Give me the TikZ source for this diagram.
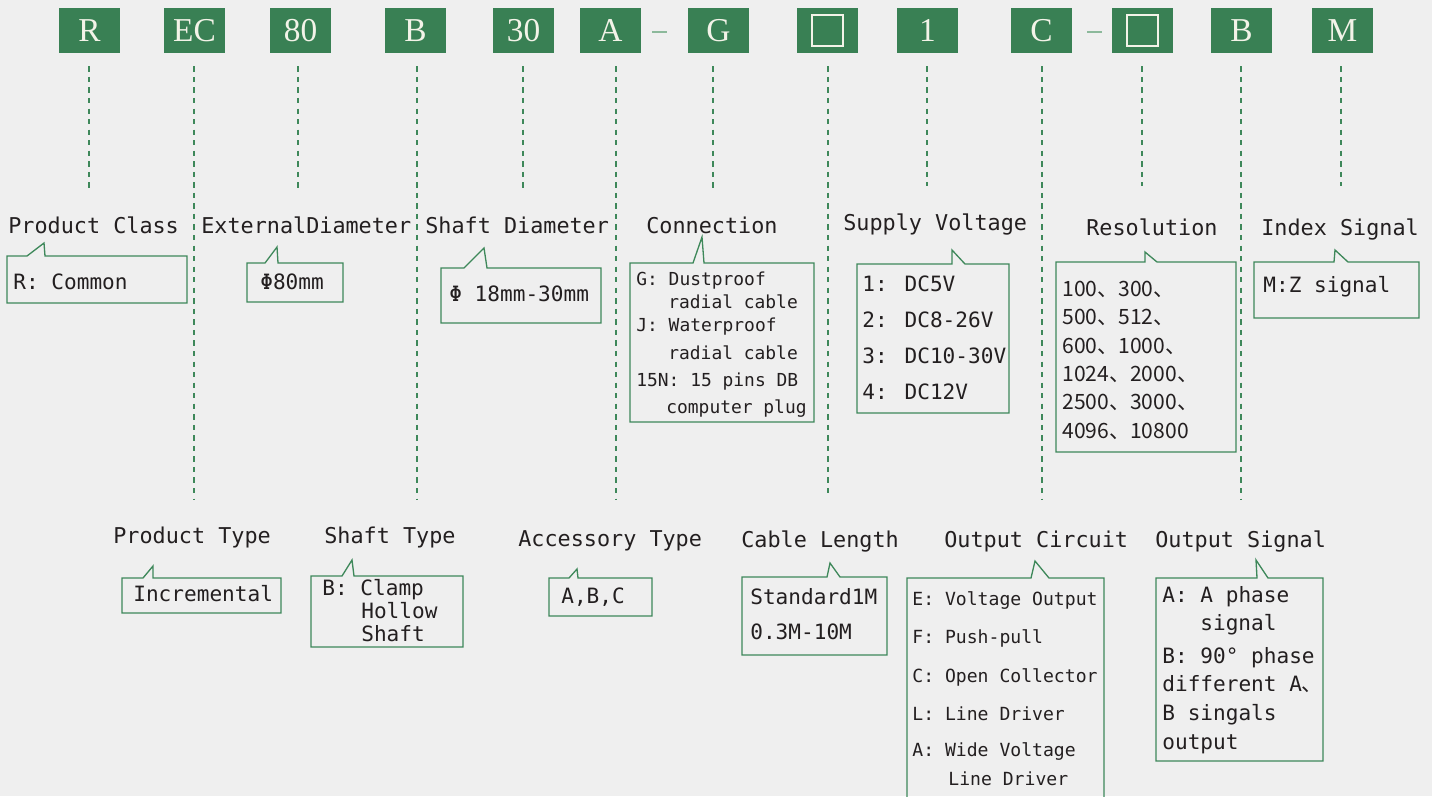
\documentclass[tikz,border=0pt]{standalone}
\usepackage{fontspec}
\setmainfont{DejaVu Sans Mono}
\newfontfamily\codefont{Liberation Serif}
\newfontfamily\cjk{Noto Sans CJK SC}
\usetikzlibrary{calc}
\definecolor{pagebg}{RGB}{239,239,239}
\definecolor{codegreen}{RGB}{57,128,84}
\definecolor{rulegreen}{RGB}{62,136,90}
\definecolor{inkdark}{RGB}{35,31,32}
\definecolor{codeink}{RGB}{243,243,232}
\definecolor{dashgreen}{RGB}{140,185,155}
\tikzset{
  codebox/.style={fill=codegreen,text=codeink,minimum width=1.22cm,minimum height=0.9cm,inner sep=0pt,font=\codefont\fontsize{19}{19}\selectfont},
  head/.style={anchor=west,inner sep=0pt,text height=0.73em,text depth=0pt,text=inkdark,font=\fontsize{12.4}{12.4}\selectfont},
  entry/.style={anchor=west,inner sep=0pt,text height=0.73em,text depth=0pt,text=inkdark,font=\fontsize{12}{12}\selectfont},
  small entry/.style={entry,font=\fontsize{10.2}{10.2}\selectfont},
  mid entry/.style={entry,font=\fontsize{10.3}{10.3}\selectfont},
  cjk entry/.style={entry,font=\cjk\fontsize{12}{12}\selectfont},
  callbox/.style={draw=rulegreen,line width=0.75pt},
  guide/.style={draw=rulegreen,line width=0.8pt,dash pattern=on 3pt off 3pt,shorten <=0.26cm},
}
\begin{document}
\begin{tikzpicture}[x=0.02cm,y=-0.02cm]
  \fill[pagebg] (0,0) rectangle (1432,796);
  \useasboundingbox (0,0) rectangle (1432,796);
  % model code
  \foreach \n/\x/\t in {R/89.5/R,EC/194.5/EC,80/300.5/80,B/415.5/B,30/523.5/30,A/610.5/A,G/718.5/G,L/827.5/{},V/927.5/1,C/1041.5/C,D/1142.5/{},S/1241.5/B,M/1342.5/M}
    \node[codebox] (c\n) at (\x,30.5) {\t};
  \foreach \n in {L,D} \draw[codeink,line width=1.2pt] ($(c\n.center)+(-15.5,-15.5)$) rectangle ++(31,31);
  \draw[dashgreen,line width=1pt] ($(cA.east)+(11,1.5)$) -- ($(cG.west)+(-21,1.5)$);
  \draw[dashgreen,line width=1pt] ($(cC.east)+(15,1.5)$) -- ($(cD.west)+(-10,1.5)$);
  % guide lines
  \foreach \n/\x/\y in {R/89/188,EC/194/500,80/298/188,B/417/500,30/523/188,A/616/500,G/713/188,L/828/495,V/927/186,C/1042/500,D/1142/186,S/1241/500,M/1341/186} {
    \coordinate (e\n) at (\x,\y);
    \draw[guide] (c\n.south -| e\n) -- (e\n);
  }
  % headings
  \foreach \n/\x/\y/\t in {Class/8/227/Product Class,Diam/201/227/ExternalDiameter,Shaft/425/227/Shaft Diameter,Conn/646/227/Connection,Volt/843/224/Supply Voltage,Res/1086/229/Resolution,Index/1261/229/Index Signal,
    Type/113/537/Product Type,SType/324/537/Shaft Type,Acc/518/540/Accessory Type,Cable/741/541/Cable Length,Circ/944/541/Output Circuit,Sig/1155/541/Output Signal}
    \node[head] (t\n) at (\x,\y) {\t};
  % callout boxes
  \foreach \xa/\ya/\xb/\yb/\ta/\px/\py/\tb in {7/256/187/303/27/44/243/45,247/263/343/302/265/277/247/278,441/268/601/323/464/484/248/487,
    630/263/814/422/693/702/237/704,857/264/1009/413/952/952/250/965,1056/262/1236/452/1145/1145/252/1157,1254/262/1419/318/1334/1335/250/1348,
    122/578/281/613/143/153/566/153,311/576/463/647/342/352/560/354,549/578/652/616/569/577/569/578,742/577/887/655/827/830/563/840,
    907/578/1104/800/1031/1035/561/1049,1156/578/1323/761/1257/1256/560/1268}
    \draw[callbox] (\xa,\ya) -- (\ta,\ya) -- (\px,\py) -- (\tb,\ya) -- (\xb,\ya) -- (\xb,\yb) -- (\xa,\yb) -- cycle;
  % entries
  \foreach \n/\x/\y/\t in {cl1/13/283/R: Common,di1/260/283/Φ80mm,sd1/449/295/Φ 18mm-30mm,sv1/862/285/1: DC5V,sv2/862/321/2: DC8-26V,sv3/862/357/3: DC10-30V,sv4/862/393/4: DC12V,
    ix1/1263/286/M:Z signal,pt1/133/595/Incremental,st1/322/589/B: Clamp,st2/361/612/Hollow,st3/361/635/Shaft,ac1/561/597/{A,B,C},cb1/750/598/Standard1M,cb2/750/633/0.3M-10M,
    os1/1162/596/A: A phase,os2/1200/624/signal,os3/1162/657/B: 90° phase,os4/1162/685/different A{\cjk 、},os5/1162/714/B singals,os6/1162/743/output}
    \node[entry] (\n) at (\x,\y) {\t};
  \foreach \n/\x/\y/\t in {cn1/636/279/G: Dustproof,cn2/668/302/radial cable,cn3/636/325/J: Waterproof,cn4/668/353/radial cable,cn5/636/380/15N: 15 pins DB,cn6/666/407/computer plug}
    \node[small entry] (\n) at (\x,\y) {\t};
  \foreach \n/\x/\y/\t in {oc1/912/599/E: Voltage Output,oc2/912/637/F: Push-pull,oc3/912/676/C: Open Collector,oc4/912/714/L: Line Driver,oc5/912/750/A: Wide Voltage,oc6/948/779/Line Driver}
    \node[mid entry] (\n) at (\x,\y) {\t};
  \foreach \n/\y/\t in {rs1/290/100、300、,rs2/318/500、512、,rs3/347/600、1000、,rs4/375/1024、2000、,rs5/403/2500、3000、,rs6/432/4096、10800}
    \node[cjk entry] (\n) at (1062,\y) {\t};
\end{tikzpicture}
\end{document}
